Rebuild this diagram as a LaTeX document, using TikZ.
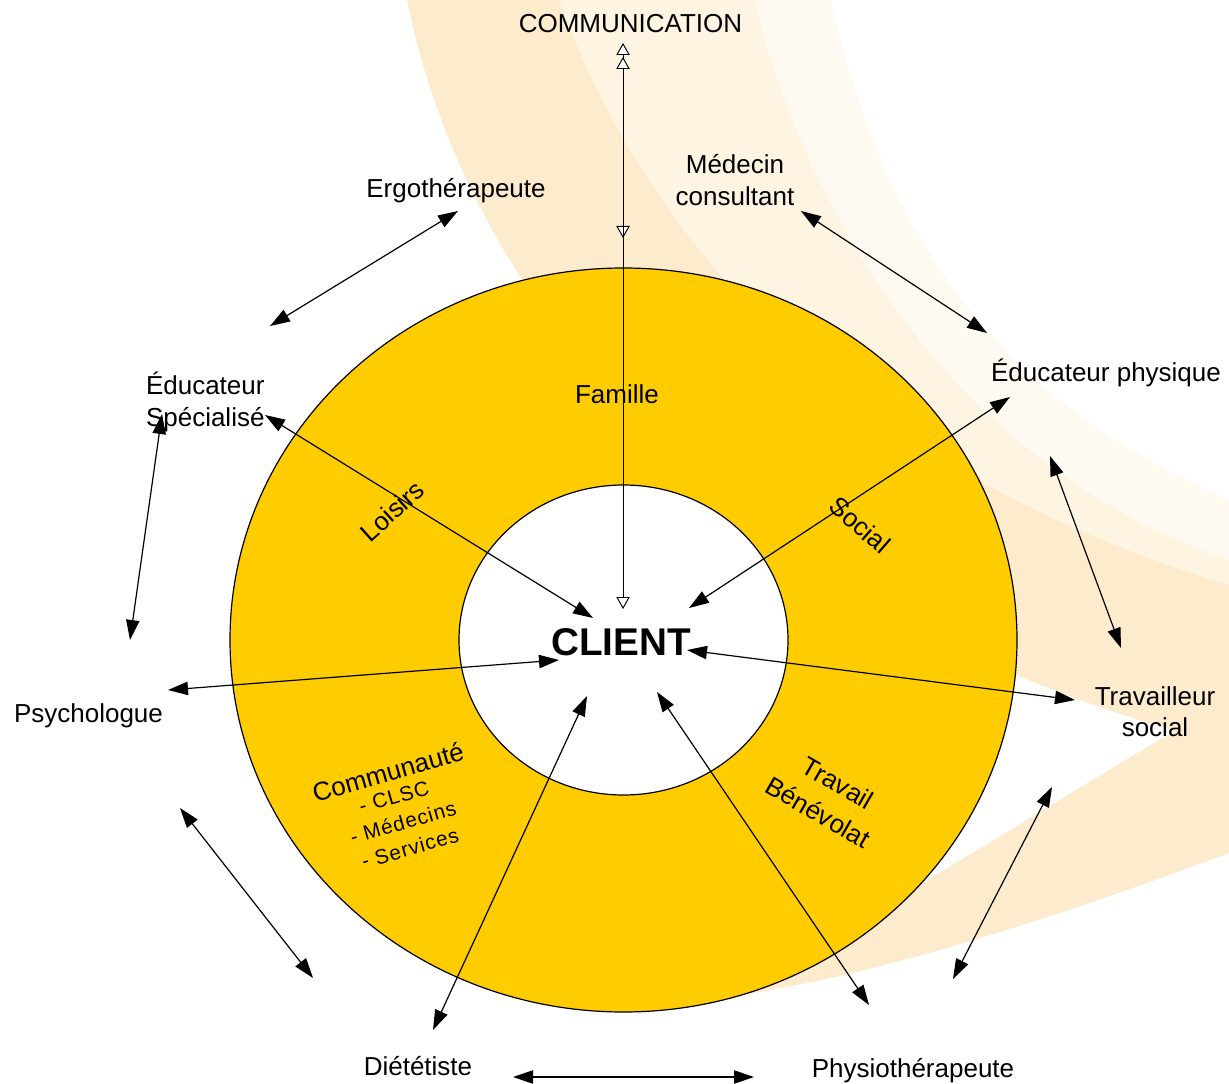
\documentclass[tikz,border=0pt]{standalone}
\usepackage{fontspec}
\setmainfont{Liberation Sans}
\newfontfamily\spacedfont[LetterSpace=5]{Liberation Sans}
\usetikzlibrary{arrows.meta,shapes.geometric}
\definecolor{ringyellow}{RGB}{255,204,0}
\definecolor{peach}{RGB}{253,235,206}
\definecolor{cream}{RGB}{254,244,226}
\definecolor{palecream}{RGB}{254,249,241}
\begin{document}
\begin{tikzpicture}[x=0.75pt,y=-0.75pt,
  lbl/.style={font=\fontsize{19.5}{23.5}\selectfont, inner sep=0pt, outer sep=0pt},
  sublbl/.style={font=\spacedfont\fontsize{15.5}{18}\selectfont, inner sep=0pt, outer sep=0pt},
  link/.style={line width=0.9pt, {Triangle[length=15pt,width=10pt]}-{Triangle[length=15pt,width=10pt]}},
  commlink/.style={line width=0.7pt, {Triangle[fill=white,length=9pt,width=10pt]}-{Triangle[fill=white,length=9pt,width=10pt]}},
  disc/.style={ellipse, draw=black, line width=0.9pt, inner sep=0pt, outer sep=0pt}
]
\useasboundingbox (0,0) rectangle (1229,1084);
\fill[white] (0,0) rectangle (1229,1084);
% background swoosh
\fill[peach] (407,0) .. controls (480,360) and (800,640) .. (1229,745) -- (1229,560) .. controls (1020,490) and (830,300) .. (754,0) -- cycle;
\fill[cream] (559,0) .. controls (680,330) and (950,500) .. (1229,585) -- (1229,560) .. controls (1020,490) and (830,300) .. (754,0) -- cycle;
\fill[palecream] (754,0) .. controls (830,300) and (1020,490) .. (1229,560) -- (1229,500) .. controls (1050,420) and (900,300) .. (830,0) -- cycle;
\fill[peach] (700,1000) .. controls (850,985) and (1050,920) .. (1229,853) -- (1229,700) .. controls (1050,800) and (880,920) .. (700,1000) -- cycle;
% rings
\node[disc, fill=ringyellow, minimum width=590.25pt, minimum height=558pt] (ring) at (623.5,640) {};
\node[disc, fill=white, minimum width=246.75pt, minimum height=232.5pt] (core) at (623.5,640) {};
% labels
\node[lbl, anchor=base] (communication) at (630.5,33) {COMMUNICATION};
\node[lbl, anchor=base] (ergo) at (456,198) {Ergothérapeute};
\node[lbl, align=center] (medecin) at (735,180) {Médecin\\consultant};
\node[lbl, align=left, anchor=west] (educspec) at (146,402) {Éducateur\\Spécialisé};
\node[lbl, anchor=base] (educphys) at (1106,382) {Éducateur physique};
\node[lbl, anchor=base] (psycho) at (88.5,722) {Psychologue};
\node[lbl, align=center] (travailleur) at (1155,711.5) {Travailleur\\social};
\node[lbl, anchor=base] (dietetiste) at (418,1075) {Diététiste};
\node[lbl, anchor=base] (physio) at (913,1077) {Physiothérapeute};
\node[lbl, anchor=base] (famille) at (617,403) {Famille};
\node[lbl, rotate=42] (loisirs) at (392,511) {Loisirs};
\node[lbl, rotate=-41] (social) at (860,525) {Social};
\node[lbl, rotate=16] (communaute) at (388,772) {Communauté};
\node[sublbl, rotate=16] (clsc) at (394,797) {- CLSC};
\node[sublbl, rotate=16] (medecins) at (403,822) {- Médecins};
\node[sublbl, rotate=16] (services) at (410,848) {- Services};
\node[lbl, rotate=-30] (travail) at (838,783) {Travail};
\node[lbl, rotate=-30] (benevolat) at (818,812) {Bénévolat};
\node[font=\bfseries\fontsize{29}{34}\selectfont, inner sep=0pt, anchor=base] (client) at (621,655) {CLIENT};
% connector end points
\coordinate (c1a) at (623,43);  \coordinate (c1b) at (623,238);
\coordinate (c2a) at (623,57);  \coordinate (c2b) at (623,609);
\coordinate (e1a) at (458,211); \coordinate (e1b) at (270,326);
\coordinate (e2a) at (801,211); \coordinate (e2b) at (987,333);
\coordinate (e3a) at (265,415); \coordinate (e3b) at (593,618);
\coordinate (e4a) at (1010,397); \coordinate (e4b) at (689,608);
\coordinate (e5a) at (162,414); \coordinate (e5b) at (130,640);
\coordinate (e6a) at (168,690); \coordinate (e6b) at (559,660);
\coordinate (e7a) at (1050,456); \coordinate (e7b) at (1121,648);
\coordinate (e8a) at (1075,700); \coordinate (e8b) at (687,650);
\coordinate (e9a) at (180,808); \coordinate (e9b) at (313,978);
\coordinate (e10a) at (433,1030); \coordinate (e10b) at (587,696);
\coordinate (e11a) at (869,1005); \coordinate (e11b) at (657,692);
\coordinate (e12a) at (513,1077); \coordinate (e12b) at (754,1077);
\coordinate (e13a) at (1052,787); \coordinate (e13b) at (953,979);
% connectors
\draw[commlink] (c1a) -- (c1b);
\draw[commlink] (c2a) -- (c2b);
\foreach \i in {1,...,13} {\draw[link] (e\i a) -- (e\i b);}
\end{tikzpicture}
\end{document}
